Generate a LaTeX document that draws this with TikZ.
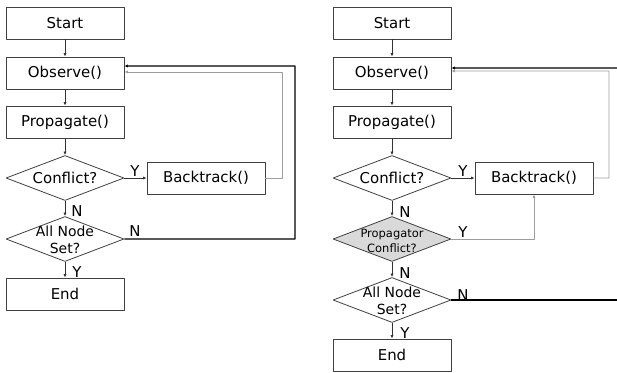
\documentclass[tikz,border=0pt]{standalone}
\usepackage{fontspec}
\setmainfont{DejaVu Sans}
\usetikzlibrary{shapes.geometric,arrows.meta}
\definecolor{boxcol}{rgb}{0.25,0.25,0.25}
\definecolor{linecol}{rgb}{0.2,0.2,0.2}
\definecolor{retrycol}{rgb}{0.62,0.62,0.62}
\definecolor{shadecol}{rgb}{0.85,0.85,0.85}
\newcommand{\dtext}[1]{\smash{\makebox[0pt]{\raisebox{-6bp}{\begin{tabular}{@{}c@{}}#1\end{tabular}}}}}
\begin{document}
\begin{tikzpicture}[>={Latex[length=3.5bp,width=3.2bp]},line join=bevel,x=1bp,y=-1bp,
  big/.style={font=\fontsize{15}{17}\selectfont},
  box/.style={big, rectangle, draw=boxcol, minimum width=118bp, minimum height=32bp, inner sep=0pt},
  decision/.style={big, diamond, draw=boxcol, minimum width=118bp, minimum height=45bp, inner sep=0pt},
  lbl/.style={big, inner sep=0pt},
  flow/.style={->, draw=linecol},
  retry/.style={->, draw=retrycol},
  restart/.style={->, draw=black, line width=1.2bp} ]
  \pgfsetlinewidth{0.8bp}
  \useasboundingbox (0,0) rectangle (617,372);
%%
\pgfsetcolor{black}
  % Node: left chart
  \node [box] (start1) at (65,23) {Start};
  \node [box] (observe1) at (65,73) {Observe()};
  \node [box] (prop1) at (65,122) {Propagate()};
  \node [decision] (conf1) at (65,178) {\dtext{Conflict?}};
  \node [box] (back1) at (206,178) {Backtrack()};
  \node [decision, font=\fontsize{14}{17}\selectfont] (all1) at (65,239) {\dtext{All Node\\Set?}};
  \node [box] (end1) at (65,294) {End};
  \coordinate (turnA1) at (282,72);
  \coordinate (turnB1) at (295,66);
  % Edge: start1 -- observe1 -- prop1 -- conf1
  \draw [flow] (start1) -- (observe1);
  \draw [flow] (observe1) -- (prop1);
  \draw [flow] (prop1) -- (conf1);
  % Edge: conf1 -- back1
  \draw [flow] (conf1) -- (back1);
  \node [lbl] (y11) at (135,171) {Y};
  % Edge: conf1 -- all1 -- end1
  \draw [flow] (conf1) -- (all1);
  \node [lbl] (n11) at (77,211) {N};
  \draw [flow] (all1) -- (end1);
  \node [lbl] (y12) at (77,272) {Y};
  % Edge: back1 -- observe1
  \draw [retry] (back1.east) -| (turnA1) -- ([yshift=1bp]observe1.east);
  % Edge: all1 -- observe1
  \draw [restart] (all1.east) -| (turnB1) -- ([yshift=7bp]observe1.east);
  \node [lbl] (n12) at (135,231) {N};
  % Node: right chart
  \node [box] (start2) at (392,23) {Start};
  \node [box] (observe2) at (392,73) {Observe()};
  \node [box] (prop2) at (392,122) {Propagate()};
  \node [decision] (conf2) at (392,178) {\dtext{Conflict?}};
  \node [box] (back2) at (534,178) {Backtrack()};
  \node [decision, fill=shadecol, font=\fontsize{11.5}{15}\selectfont] (pc2) at (392,239) {\dtext{Propagator\\Conflict?}};
  \node [decision, font=\fontsize{14}{17}\selectfont] (all2) at (392,300) {\dtext{All Node\\Set?}};
  \node [box] (end2) at (392,355) {End};
  \coordinate (turnA2) at (609,71);
  \coordinate (entry2) at (617,68);
  \coordinate (exit2) at (617,300);
  % Edge: start2 -- observe2 -- prop2 -- conf2
  \draw [flow] (start2) -- (observe2);
  \draw [flow] (observe2) -- (prop2);
  \draw [flow] (prop2) -- (conf2);
  % Edge: conf2 -- back2
  \draw [flow] (conf2) -- (back2);
  \node [lbl] (y21) at (463,171) {Y};
  % Edge: conf2 -- pc2 -- all2 -- end2
  \draw [flow] (conf2) -- (pc2);
  \node [lbl] (n21) at (405,212) {N};
  \draw [flow] (pc2) -- (all2);
  \node [lbl] (n22) at (405,273) {N};
  \draw [flow] (all2) -- (end2);
  \node [lbl] (y23) at (405,333) {Y};
  % Edge: pc2 -- back2
  \draw [retry] (pc2.east) -| (back2.south);
  \node [lbl] (y22) at (463,232) {Y};
  % Edge: back2 -- observe2
  \draw [retry] (back2.east) -| (turnA2) -- ([yshift=2bp]observe2.east);
  % Edge: entry2 -- observe2
  \draw [restart] (entry2) -- ([yshift=5bp]observe2.east);
  % Edge: all2 -- exit2
  \draw [restart, -] (all2.east) -- (exit2);
  \node [lbl] (n23) at (463,295) {N};
%
\end{tikzpicture}
\end{document}
